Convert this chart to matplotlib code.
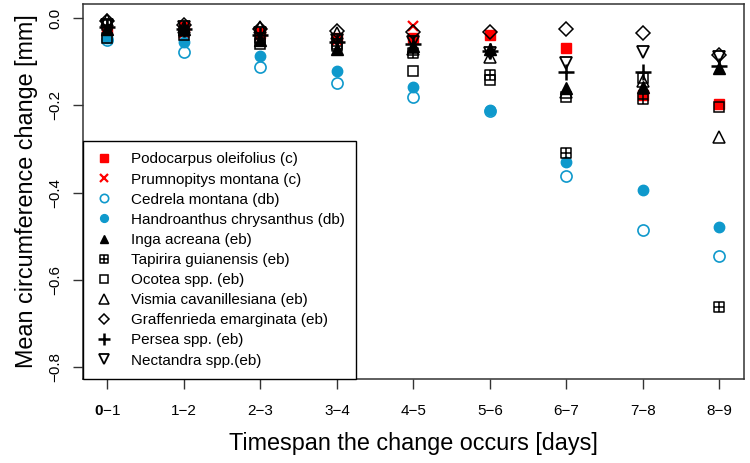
import numpy as np
import matplotlib
matplotlib.use("Agg")
import matplotlib.pyplot as plt
from matplotlib.path import Path

plt.rcParams['font.family'] = ['Liberation Sans', 'DejaVu Sans']
plt.rcParams['mathtext.fontset'] = 'custom'
plt.rcParams['mathtext.bf'] = 'Liberation Sans:bold'
plt.rcParams['mathtext.rm'] = 'Liberation Sans'

# DATOS
intervalos = ["$\\mathbf{0}$\u22121", "1\u22122", "2\u22123", "3\u22124", "4\u22125",
              "5\u22126", "6\u22127", "7\u22128", "8\u22129"]
nan = np.nan

podocarpus = [-0.028, -0.020, -0.035, -0.045, -0.045, -0.040, -0.068, -0.176, -0.198]
prumnopitys = [-0.032, -0.035, -0.040, -0.050, -0.018, nan, nan, nan, nan]
cedrela = [-0.050, -0.078, -0.112, -0.150, -0.180, -0.212, -0.362, -0.486, -0.545]
handroanthus = [-0.046, -0.055, -0.087, -0.122, -0.158, -0.210, -0.330, -0.393, -0.478]
inga = [-0.025, -0.025, -0.050, -0.070, -0.065, -0.070, -0.160, -0.158, -0.115]
tapirira = [-0.015, -0.030, -0.045, -0.065, -0.080, -0.130, -0.310, -0.186, -0.662]
ocotea = [-0.045, -0.040, -0.060, -0.060, -0.122, -0.142, -0.180, -0.138, -0.205]
vismia = [-0.005, -0.020, -0.020, -0.035, -0.070, -0.090, -0.170, -0.145, -0.272]
graffenrieda = [-0.008, -0.015, -0.025, -0.030, -0.032, -0.033, -0.025, -0.035, -0.085]
persea = [-0.020, -0.025, -0.040, -0.055, -0.060, -0.075, -0.123, -0.123, -0.110]
nectandra = [-0.015, -0.020, -0.035, -0.050, -0.055, -0.080, -0.104, -0.079, -0.090]

nombres = ["Podocarpus oleifolius (c)", "Prumnopitys montana (c)", "Cedrela montana (db)",
           "Handroanthus chrysanthus (db)", "Inga acreana (eb)", "Tapirira guianensis (eb)",
           "Ocotea spp. (eb)", "Vismia cavanillesiana (eb)", "Graffenrieda emarginata (eb)",
           "Persea spp. (eb)", "Nectandra spp.(eb)"]

# marcador cuadrado con cruz (pch 12 de R)
sq_cruz = Path([(-1, -1), (1, -1), (1, 1), (-1, 1), (-1, -1), (0, -1), (0, 1), (-1, 0), (1, 0)],
               [Path.MOVETO, Path.LINETO, Path.LINETO, Path.LINETO, Path.CLOSEPOLY,
                Path.MOVETO, Path.LINETO, Path.MOVETO, Path.LINETO])

rojo = "#ff0000"
azul = "#0f99cc"
estilos = [
    dict(marker="s", color=rojo, mfc=rojo, ms=7),
    dict(marker="x", color=rojo, mfc="none", ms=7, mew=1.6),
    dict(marker="o", color=azul, mfc="none", ms=8, mew=1.2),
    dict(marker="o", color=azul, mfc=azul, ms=7.5),
    dict(marker="^", color="black", mfc="black", ms=8),
    dict(marker=sq_cruz, color="black", mfc="none", ms=7.5, mew=1.1),
    dict(marker="s", color="black", mfc="none", ms=7.5, mew=1.1),
    dict(marker="^", color="black", mfc="none", ms=9, mew=1.1),
    dict(marker="D", color="black", mfc="none", ms=7, mew=1.1),
    dict(marker="+", color="black", mfc="none", ms=11, mew=1.8),
    dict(marker="v", color="black", mfc="none", ms=9, mew=1.3),
]

series = [podocarpus, prumnopitys, cedrela, handroanthus, inga, tapirira, ocotea,
          vismia, graffenrieda, persea, nectandra]

x = np.arange(1, len(intervalos) + 1)

fig = plt.figure(figsize=(7.5, 4.63), dpi=100)
ax = fig.add_axes([0.1107, 0.1814, 0.881, 0.8100])

for nombre, vals, est in zip(nombres, series, estilos):
    ax.plot(x, vals, linestyle="none", label=nombre, **est)

ax.set_xlim(0.68, 9.32)
ax.set_ylim(-0.827, 0.032)
ax.set_xticks(x)
ax.set_xticklabels(intervalos, fontsize=11)
yt = [0.0, -0.2, -0.4, -0.6, -0.8]
ax.set_yticks(yt)
ax.set_yticklabels([f"{v:.1f}".replace("-", "\u2212") for v in yt], fontsize=11,
                   rotation=90, va="center")
ax.tick_params(direction="out", length=7, width=1, color="#333333", pad=8)
ax.tick_params(axis="x", pad=11)
for s in ax.spines.values():
    s.set_linewidth(1.1)
    s.set_color("#333333")

ax.set_xlabel("Timespan the change occurs [days]", fontsize=16.8, labelpad=10)
ax.set_ylabel("Mean circumference change [mm]", fontsize=16.8, labelpad=7)

leg = ax.legend(loc="lower left", borderaxespad=0, fancybox=False, fontsize=11,
                labelspacing=0.40, handlelength=1.2, handletextpad=1.2,
                borderpad=0.75, markerscale=0.75, framealpha=1, edgecolor="black")
leg.get_frame().set_linewidth(1.0)

fig.savefig("out.png", dpi=100)
